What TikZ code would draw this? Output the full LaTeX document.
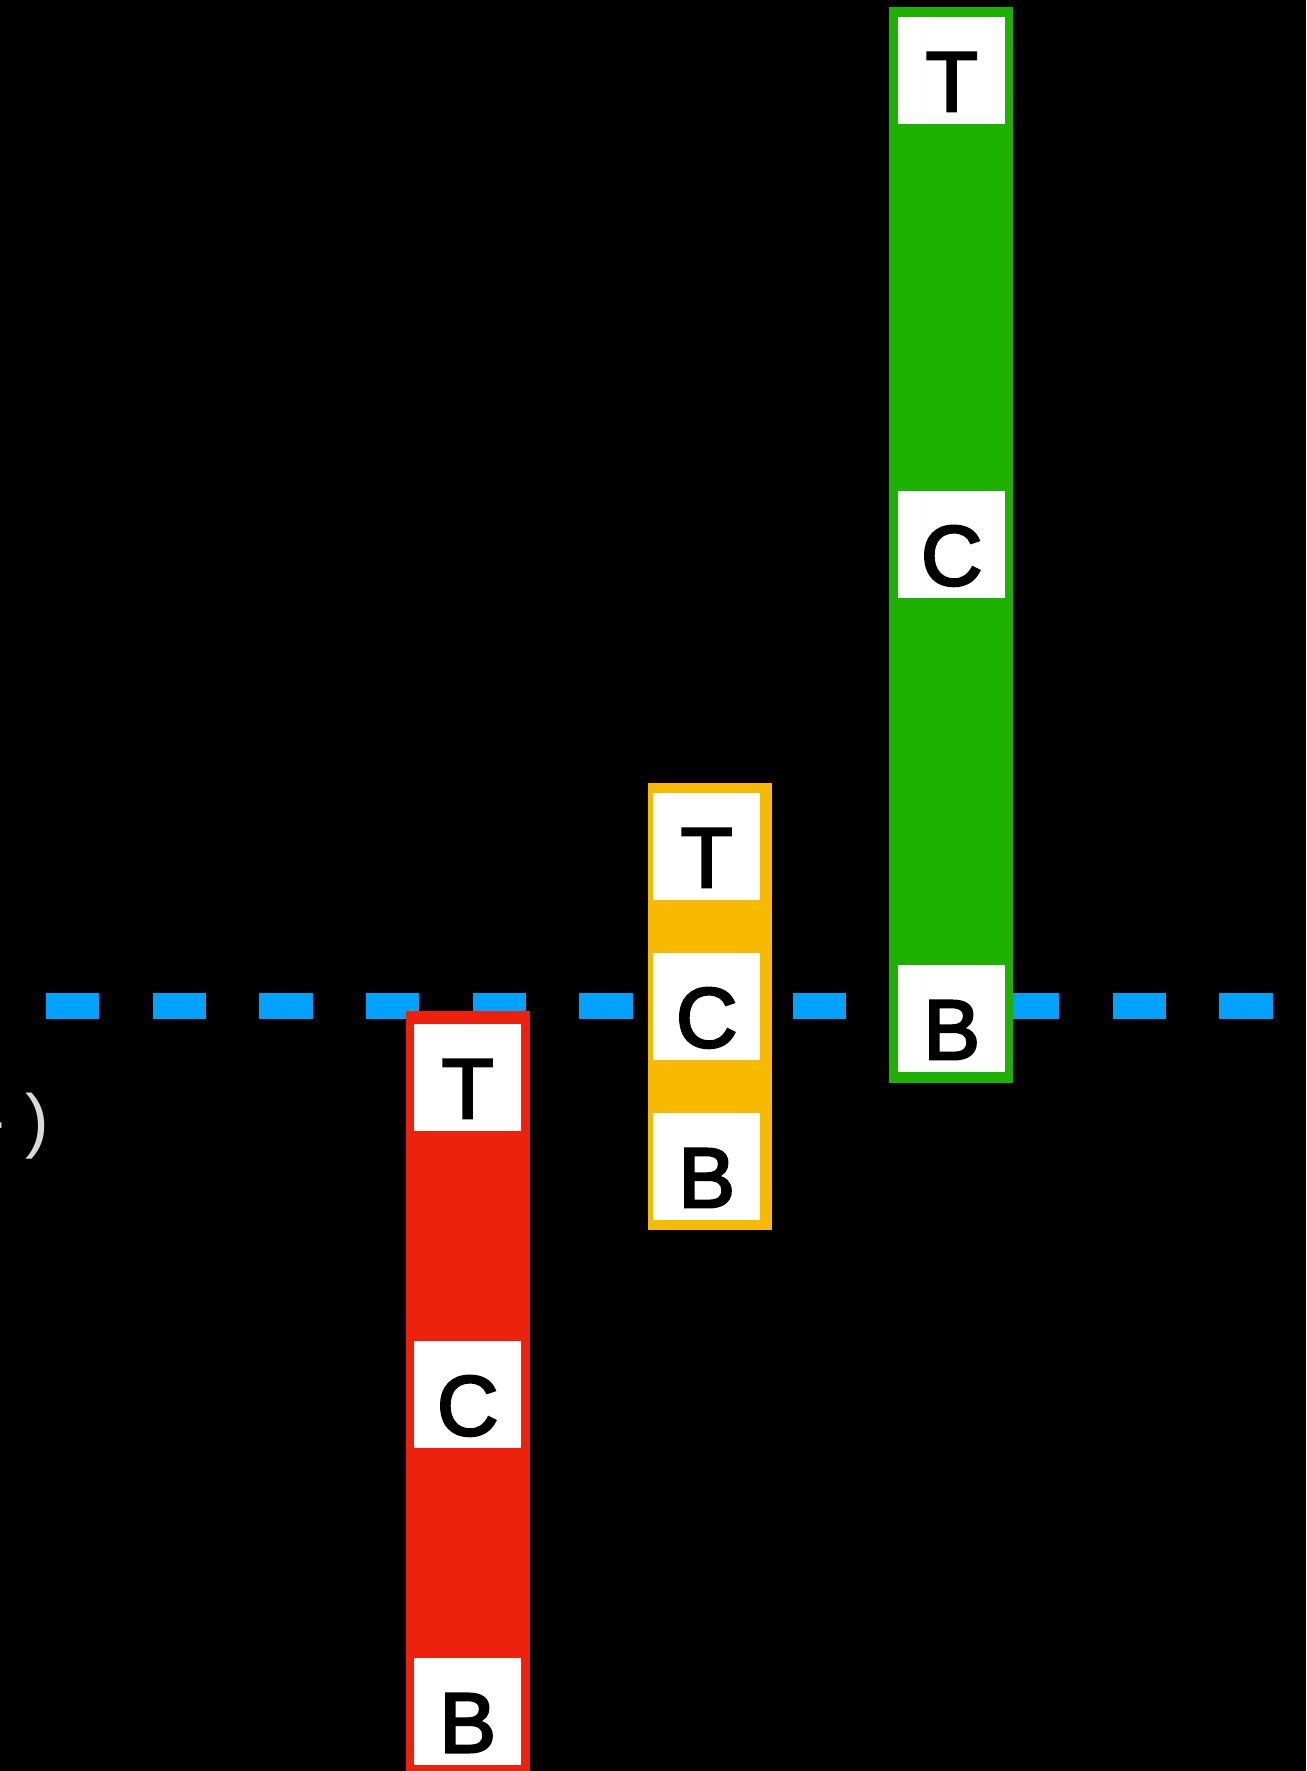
\documentclass[tikz,border=0pt]{standalone}
\usepackage{fontspec}
\newfontfamily\letterfont[FakeBold=3]{Liberation Sans}
\newfontfamily\grayfont{Liberation Sans}
\definecolor{kgreen}{HTML}{1DB100}
\definecolor{kred}{HTML}{EE220C}
\definecolor{kyellow}{HTML}{F8BA00}
\definecolor{kblue}{HTML}{00A2FF}
\definecolor{kgray}{HTML}{D9D9D9}
\tikzset{
  sq/.style={fill=white, inner sep=0pt, minimum width=107pt, text height=94pt, text depth=13pt,
    anchor=north west, font=\letterfont\fontsize{85}{90}\selectfont, text=black},
  bar/.style={line width=26pt, kblue, dash pattern=on 53.33pt off 53.34pt}
}
\begin{document}
\begin{tikzpicture}[x=1pt,y=-1pt]
\fill[black] (0,0) rectangle (1306,1771);
\useasboundingbox (0,0) rectangle (1306,1771);
% dashed line
\coordinate (dl) at (46,1006);
\coordinate (dr) at (1273,1006);
\draw[bar] (dl) -- (dr);
% gray cut text
\node[anchor=base east, inner sep=0pt, text=kgray, font=\grayfont\fontsize{71}{80}\selectfont] (cut) at (49,1144) {- )};
% red column
\fill[kred] (406,1011) rectangle (530,1771);
\node[sq] (rT) at (414,1024) {T};
\node[sq] (rC) at (414,1341) {C};
\node[sq] (rB) at (414,1658) {B};
% yellow column
\fill[kyellow] (648,783) rectangle (772,1230);
\node[sq] (yT) at (653,793) {T};
\node[sq] (yC) at (653,953) {C};
\node[sq] (yB) at (653,1113) {B};
% green column
\fill[kgreen] (889,7) rectangle (1013,1083);
\node[sq] (gT) at (898,17) {T};
\node[sq] (gC) at (898,491) {C};
\node[sq] (gB) at (898,965) {B};
\end{tikzpicture}
\end{document}
